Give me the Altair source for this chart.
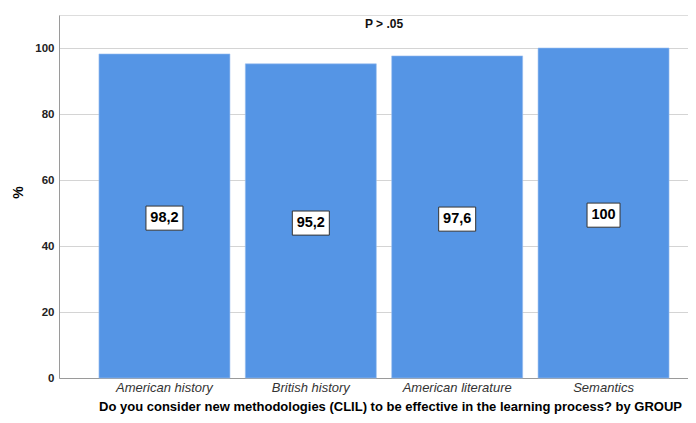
import altair as alt
import pandas as pd

groups = ["American history", "British history", "American literature", "Semantics"]
values = [98.2, 95.2, 97.6, 100]
labels = ["98,2", "95,2", "97,6", "100"]

df = pd.DataFrame({"group": groups, "value": values, "label": labels})

FONT = "Liberation Sans"

x_enc = alt.X(
    "group:N",
    sort=groups,
    scale=alt.Scale(range=[0, 650], paddingInner=0.105, paddingOuter=0.273),
    axis=alt.Axis(
        title="Do you consider new methodologies (CLIL) to be effective in the learning process?  by GROUP",
        labelAngle=0,
        labelFont=FONT,
        labelFontSize=13,
        labelFontStyle="italic",
        labelColor="#333333",
        labelPadding=3,
        ticks=False,
        tickSize=0,
        domainColor="#9a9a9a",
        domainWidth=1,
        grid=False,
        titleFont=FONT,
        titleFontSize=13,
        titleFontWeight="bold",
        titleColor="#000000",
        titleX=331,
        titleY=28,
        titleAlign="center",
        titleBaseline="middle",
    ),
)

y_scale = alt.Scale(domain=[0, 110], nice=False)

bars = alt.Chart(df).mark_bar(
    color="#5595E5", stroke="#9cc0f0", strokeWidth=0.6
).encode(
    x=x_enc,
    y=alt.Y(
        "value:Q",
        scale=y_scale,
        axis=alt.Axis(
            title="%",
            values=[0, 20, 40, 60, 80, 100],
            labelFont=FONT,
            labelFontSize=11.5,
            labelFontWeight="bold",
            labelColor="#222222",
            labelPadding=5,
            ticks=False,
            tickSize=0,
            domainColor="#9a9a9a",
            gridColor="#d4d4d4",
            gridWidth=1,
            titleFont=FONT,
            titleFontSize=14,
            titleFontWeight="bold",
            titleColor="#000000",
            titleAngle=-90,
            titleX=-41,
            titleY=177,
            titleAlign="center",
            titleBaseline="middle",
        ),
    ),
)

box_base = alt.Chart(df).transform_calculate(
    lo="datum.value/2 - 4.3", hi="datum.value/2 + 3.0"
)

box_wide = box_base.transform_filter("length(datum.label) > 3").mark_bar(
    width=37, fill="white", stroke="#333333", strokeWidth=1
).encode(
    x=alt.X("group:N", sort=groups),
    y=alt.Y("lo:Q", scale=y_scale),
    y2="hi:Q",
)

box_narrow = box_base.transform_filter("length(datum.label) <= 3").mark_bar(
    width=33, fill="white", stroke="#333333", strokeWidth=1
).encode(
    x=alt.X("group:N", sort=groups),
    y=alt.Y("lo:Q", scale=y_scale),
    y2="hi:Q",
)

text = box_base.transform_calculate(mid="datum.value/2 - 0.65").mark_text(
    font=FONT, fontSize=14.5, fontWeight="bold", color="#000000", baseline="middle"
).encode(
    x=alt.X("group:N", sort=groups),
    y=alt.Y("mid:Q", scale=y_scale),
    text="label:N",
)

ptext = alt.Chart(pd.DataFrame({"t": ["P > .05"]})).mark_text(
    font=FONT, fontSize=12, fontWeight="bold", color="#111111", baseline="middle"
).encode(
    x=alt.value(325),
    y=alt.value(9),
    text="t:N",
)

chart = alt.layer(bars, box_wide, box_narrow, text, ptext).properties(
    width=629,
    height=363,
    autosize=alt.AutoSizeParams(type="none"),
    padding={"left": 51, "top": 7, "right": 0, "bottom": 36},
).configure_view(stroke=None).configure(background="white")

chart.save("out.html", embed_options={"renderer": "svg", "actions": False})
